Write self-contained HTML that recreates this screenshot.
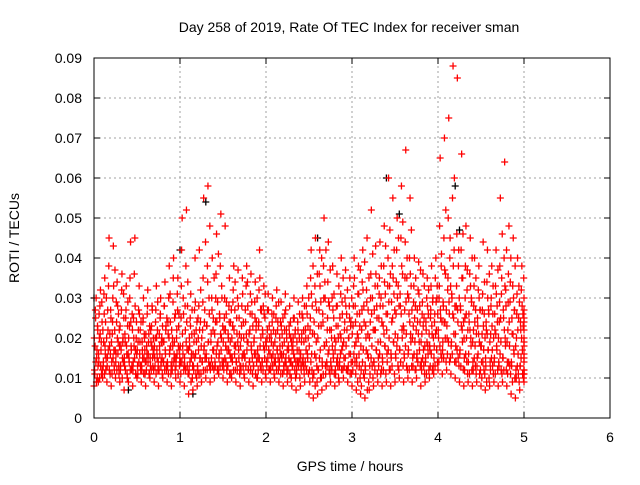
<!DOCTYPE html>
<html><head><meta charset="utf-8"><style>
body{margin:0;background:#fff}
svg text{font-family:"Liberation Sans",sans-serif;font-size:14px;fill:#000}
</style></head><body>
<svg id="chart" width="640" height="480" xmlns="http://www.w3.org/2000/svg">
<rect width="640" height="480" fill="#fff"/>
<text x="349" y="32" text-anchor="middle">Day 258 of 2019, Rate Of TEC Index for receiver sman</text>
<text transform="translate(19,238) rotate(-90)" text-anchor="middle">ROTI / TECUs</text>
<text x="350" y="471" text-anchor="middle">GPS time / hours</text>
<g id="grid"></g><g id="ticks"></g><g id="marks"></g>
<rect x="94" y="58" width="516" height="360" fill="none" stroke="#000" stroke-width="1"/>
</svg>
<script>
const xTicks=[0,1,2,3,4,5,6];
const yTicks=[0,0.01,0.02,0.03,0.04,0.05,0.06,0.07,0.08,0.09];
const yTickLabels=["0","0.01","0.02","0.03","0.04","0.05","0.06","0.07","0.08","0.09"];
const binStep=0.05;
const redBins=[
[8,12,18,25,30,15,10,22],[9,14,20,28,32,17,11,24],[10,13,19,26,35,16,12,30],[9,15,22,33,45,18,11,27],[8,14,21,30,43,17,12,37],
[10,16,24,34,28,19,13,22],[9,12,18,27,36,15,20,31],[7,13,19,25,33,16,10,29],[9,15,23,35,44,18,12,26],[8,14,20,36,45,17,11,24],
[10,13,19,27,33,16,22,12],[9,12,17,24,30,15,20,11],[8,14,18,26,32,16,21,11],[10,13,19,23,28,15,17,12],[9,15,20,27,33,17,22,12],
[8,12,18,25,30,14,20,11],[10,14,19,28,34,16,23,12],[9,13,21,30,38,17,24,11],[8,14,20,29,40,16,25,12],[10,15,22,31,35,18,26,13],
[9,14,25,42,50,18,30,12],[8,13,22,38,52,17,28,11],[6,12,18,25,31,15,21,10],[7,13,19,27,40,16,22,10],[8,12,20,28,42,15,24,11],
[9,14,22,35,55,18,27,12],[10,15,23,38,58,19,30,13],[9,13,21,30,40,17,25,12],[10,14,24,36,46,18,29,12],[11,16,25,38,51,20,30,13],
[10,14,22,30,48,18,26,12],[9,13,20,28,35,16,24,11],[10,15,23,32,38,18,27,12],[9,14,21,30,37,17,25,11],[8,13,20,28,35,16,24,11],
[10,15,24,33,38,19,28,12],[9,14,22,31,36,17,26,11],[8,13,20,29,34,16,24,10],[10,15,23,32,42,18,27,12],[9,14,21,28,33,17,25,11],
[10,14,20,27,31,17,23,12],[9,13,19,26,30,16,22,11],[10,15,21,28,32,17,24,12],[9,14,18,24,29,16,21,11],[8,13,19,26,31,15,22,11],
[9,12,17,23,28,14,20,10],[8,13,18,25,30,15,21,10],[7,12,17,24,29,14,20,10],[8,13,19,26,30,15,22,11],[9,14,20,28,33,16,23,11],
[6,12,22,35,42,16,28,10],[5,11,21,33,45,15,27,9],[6,12,23,36,42,17,29,10],[7,13,24,38,50,18,30,11],[8,14,22,34,44,17,28,11],
[9,13,20,30,38,16,25,11],[8,12,19,28,36,15,23,10],[9,14,21,31,40,17,26,12],[10,15,22,30,37,18,26,12],[9,13,20,28,35,16,24,11],
[8,14,23,33,40,18,28,11],[7,13,21,31,38,16,26,10],[6,12,22,34,42,17,28,10],[5,12,20,32,45,16,27,9],[7,13,24,36,52,18,30,10],
[8,14,22,33,43,17,28,11],[9,15,25,35,44,19,30,12],[8,14,23,38,48,18,31,11],[9,16,26,40,60,20,33,12],[8,15,24,38,55,19,31,11],
[9,16,26,42,50,20,33,12],[10,17,28,45,58,22,36,13],[9,16,27,44,67,21,35,12],[10,17,26,40,55,21,33,13],[9,15,23,33,40,19,28,12],
[10,16,24,32,39,19,28,13],[8,14,21,29,36,17,25,11],[9,15,22,30,35,18,26,12],[10,17,25,33,38,21,29,13],[11,18,26,35,40,22,30,14],
[12,20,30,48,65,25,38,15],[11,19,28,45,70,24,36,14],[12,20,32,50,75,26,40,15],[11,19,30,55,88,25,42,14],[10,18,28,46,85,24,38,13],
[9,17,27,42,66,22,35,12],[8,15,25,38,48,20,32,11],[9,16,24,36,45,20,30,12],[8,14,22,33,40,18,27,11],[9,15,23,32,38,19,27,12],
[8,14,21,31,44,17,26,11],[7,13,22,34,42,17,27,10],[8,14,21,30,38,17,26,11],[9,15,22,33,42,18,28,12],[8,14,24,38,55,19,31,11],
[9,15,25,40,64,20,32,12],[8,14,22,36,48,18,29,11],[6,13,21,33,45,17,27,10],[5,12,20,31,40,16,25,9],[7,13,22,32,38,17,26,10],
[9,12,18,24,30,15,20,11]];
const redBins2=[
[20,11,27,14,9,17,23,13],[16,26,10,21,13,19,29,12],[22,14,31,11,18,24,15,20],[13,27,17,38,12,21,16,25],[19,11,24,15,33,13,22,17],
[14,29,12,20,16,26,11,18],[23,13,17,32,10,19,14,25],[15,21,12,27,18,11,23,16],[20,14,30,12,24,17,13,22],[12,25,18,15,28,11,20,16],
[17,11,22,14,26,19,13,24],[13,19,15,25,11,21,17,14],[21,12,16,28,14,19,11,23],[15,22,12,18,27,13,20,16],[18,13,24,11,20,15,29,14],
[12,21,16,26,13,19,15,23],[19,14,28,12,17,22,13,25],[14,24,11,20,16,31,18,13],[22,12,18,35,14,19,15,26],[13,20,16,27,11,23,17,15],
[18,11,33,14,21,16,26,13],[15,28,12,19,24,13,34,17],[11,20,14,23,9,16,27,13],[16,12,21,15,29,11,19,24],[13,25,17,11,22,15,32,18],
[20,14,29,12,17,24,15,44],[16,23,12,34,19,14,26,48],[12,19,15,27,13,22,17,35],[21,13,30,16,24,12,19,41],[15,26,13,21,17,33,14,23],
[19,12,25,15,22,14,29,17],[13,21,17,24,11,19,15,27],[20,14,29,12,22,16,34,18],[14,25,12,19,28,15,21,13],[18,12,23,15,31,13,20,16],
[15,27,13,21,17,34,19,12],[21,14,26,12,18,29,15,23],[13,19,16,25,11,22,14,30],[17,12,24,15,35,13,20,27],[14,22,12,18,26,15,31,19],
[18,13,22,15,27,12,20,16],[12,21,15,24,13,18,26,14],[19,14,25,12,17,22,15,29],[13,20,16,11,23,15,18,25],[16,12,22,14,27,13,20,17],
[12,18,15,21,11,24,14,19],[17,13,20,16,25,12,22,14],[11,19,14,22,13,17,26,15],[16,12,21,14,25,13,19,28],[13,22,17,12,26,15,20,30],
[18,9,25,14,31,12,21,38],[11,24,16,8,29,19,13,36],[20,12,27,15,33,10,23,40],[14,26,11,30,18,34,13,42],[19,13,25,16,29,12,22,37],
[14,22,12,18,27,15,31,20],[17,11,23,14,28,13,20,33],[13,25,16,20,12,29,18,35],[19,13,24,15,28,12,22,32],[12,20,16,25,11,23,14,30],
[21,12,28,16,35,14,24,19],[15,26,9,20,31,13,23,37],[18,8,27,14,32,11,24,39],[13,23,17,29,7,21,15,35],[20,11,30,15,26,13,41,22],
[14,27,12,22,36,17,25,33],[19,13,31,16,28,11,38,24],[15,28,12,21,34,18,43,26],[22,14,33,17,29,12,47,36],[16,29,13,25,35,19,42,27],
[21,15,34,18,30,13,45,28],[17,31,14,26,38,20,49,23],[22,15,35,18,29,13,40,31],[16,30,12,24,36,19,47,27],[20,13,29,16,25,12,35,22],
[15,27,14,21,31,17,24,37],[19,12,26,15,23,13,33,18],[14,24,11,19,28,16,32,21],[18,13,27,16,23,12,30,20],[15,24,13,21,29,17,33,26],
[22,14,33,18,27,16,41,24],[17,29,15,24,37,20,52,27],[23,16,35,19,29,14,45,33],[18,31,16,26,38,21,60,28],[21,14,33,17,27,15,42,30],
[16,28,13,23,35,19,46,24],[20,12,30,16,26,14,37,22],[14,26,11,22,33,18,29,40],[19,12,28,15,24,13,35,21],[13,25,16,21,30,11,27,18],
[18,10,27,14,23,12,34,20],[15,24,9,21,30,17,26,36],[19,12,28,15,23,13,33,20],[14,26,11,21,31,17,24,37],[20,13,29,16,25,12,35,46],
[15,27,12,22,33,18,28,42],[19,11,29,14,24,13,34,40],[14,25,9,21,30,16,27,38],[18,10,26,13,22,11,33,29],[13,24,15,20,28,11,23,35],
[16,11,22,14,27,12,19,25]];
const blackTimes=[0.0,0.4,1.0,1.15,1.3,2.6,3.4,3.55,4.2,4.25];
const blackValues=[0.030,0.007,0.042,0.006,0.054,0.045,0.060,0.051,0.058,0.047];

const X0=94,X1=610,Y0=418,Y1=58;
const xs=v=>X0+(v-0)/(6-0)*(X1-X0);
const ys=v=>Y0-(v-0)/(0.09-0)*(Y0-Y1);
const NS="http://www.w3.org/2000/svg";
const grid=document.getElementById('grid'),ticks=document.getElementById('ticks'),marks=document.getElementById('marks');
function mk(tag,attrs,parent){const e=document.createElementNS(NS,tag);for(const k in attrs)e.setAttribute(k,attrs[k]);parent.appendChild(e);return e;}
xTicks.forEach(t=>{
  const x=xs(t);
  if(t>0&&t<6){const g=mk('line',{x1:x,y1:Y0,x2:x,y2:Y1,stroke:'#a0a0a0','stroke-dasharray':'2,3'},grid);
  
  }
  const tk=mk('path',{d:`M${x},${Y0}v-6M${x},${Y1}v6`,stroke:'#000'},ticks);
  
  
  const lb=mk('text',{x:x,y:Y0+24,'text-anchor':'middle'},ticks);lb.textContent=String(t);
  
  
});
yTicks.forEach((t,i)=>{
  const y=ys(t);
  if(i>0&&i<yTicks.length-1){const g=mk('line',{x1:X0,y1:y,x2:X1,y2:y,stroke:'#a0a0a0','stroke-dasharray':'2,3'},grid);
  
  }
  const tk=mk('path',{d:`M${X0},${y}h6M${X1},${y}h-6`,stroke:'#000'},ticks);
  
  
  const lb=mk('text',{x:X0-12,y:y+5,'text-anchor':'end'},ticks);lb.textContent=yTickLabels[i];
  
  
});
function plus(t,v,color,name){
  const x=xs(t),y=ys(v);
  const p=mk('path',{d:`M${x-3.5},${y}h7M${x},${y-3.5}v7`,stroke:color,'stroke-width':1.3},marks);
  
  
}
blackTimes.forEach((t,i)=>plus(t,blackValues[i],'#000','black-point'));
function drawBins(bins,offset){
  bins.forEach((bin,i)=>{
    bin.forEach((v,j)=>{
      let t=i*binStep+(j+offset)*binStep/bin.length; if(t>5)t=5;
      plus(t,v/1000,'#ff0000','roti-point');
    });
  });
}
drawBins(redBins,0);
drawBins(redBins2,0.5);
</script>
</body></html>
